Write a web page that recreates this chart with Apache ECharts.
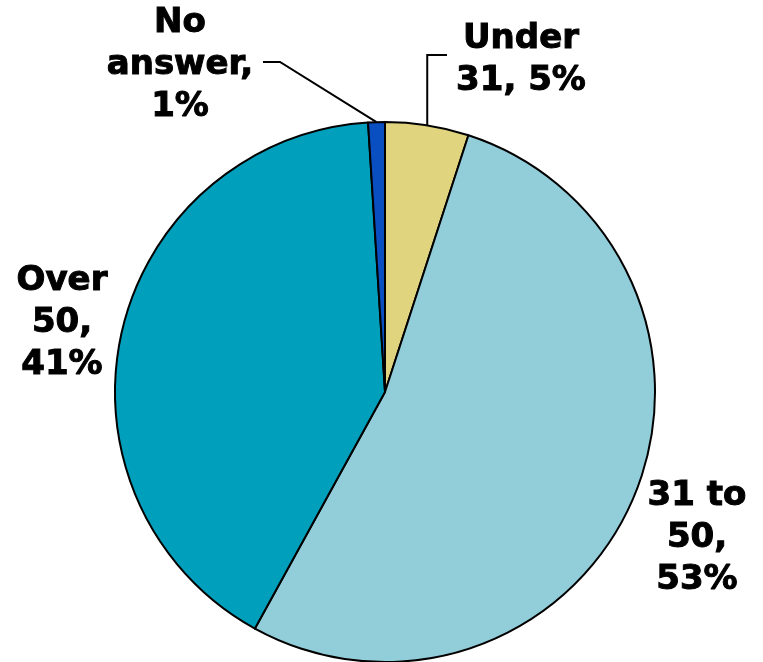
<!DOCTYPE html>
<html lang="en">
<head>
  <meta charset="UTF-8">
  <title>Age</title>
  <style>
    html, body { margin: 0; padding: 0; background: #fff; }
    #chart { width: 763px; height: 662px; }
  </style>
</head>
<body>
  <div id="chart"></div>
  <script src="https://cdn.jsdelivr.net/npm/echarts@6/dist/echarts.min.js"></script>
  <script>
    // data
    const names = ['Under 31', '31 to 50', 'Over 50', 'No answer'];
    const values = [5, 53, 41, 1];
    const labelText = ['Under\n31, 5%', '31 to\n50,\n53%', 'Over\n50,\n41%', 'No\nanswer,\n1%'];
    const colors = ['#E0D47E', '#92CDDA', '#00A0BC', '#0A4FC2'];

    // where each label sits (centre of text block)
    const labelPos = [[521, 60], [697, 538], [62, 323], [180, 65]];

    const chart = echarts.init(document.getElementById('chart'));
    chart.setOption({
      animation: false,
      series: [{
        type: 'pie',
        center: [385, 392],
        radius: 270,
        startAngle: 90,
        clockwise: true,
        itemStyle: { borderColor: '#000', borderWidth: 2 },
        label: {
          show: true,
          position: 'outside',
          formatter: p => labelText[p.dataIndex],
          fontFamily: 'DejaVu Sans',
          fontWeight: 'bold',
          fontSize: 34,
          lineHeight: 42,
          color: '#000',
          textBorderColor: '#000',
          textBorderWidth: 1,
          align: 'center',
          overflow: 'none'
        },
        labelLine: { show: false, lineStyle: { color: '#000', width: 2 } },
        labelLayout: function (params) {
          const i = params.dataIndex;
          const out = { x: labelPos[i][0], y: labelPos[i][1], align: 'center', verticalAlign: 'middle' };
          const s = params.labelLinePoints && params.labelLinePoints[0];
          if (s && i === 0) {
            out.labelLinePoints = [s, [s[0], 55], [447, 55]];
          } else if (s && i === 3) {
            out.labelLinePoints = [s, [280, 62], [263, 62]];
          }
          return out;
        },
        data: names.map((n, i) => ({
          name: n,
          value: values[i],
          itemStyle: { color: colors[i] },
          labelLine: { show: i === 0 || i === 3 }
        }))
      }]
    });
  </script>
</body>
</html>
